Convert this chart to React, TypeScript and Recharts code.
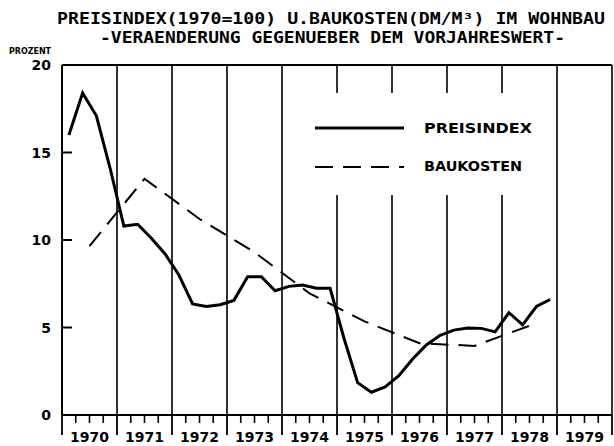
import { LineChart, Line, XAxis, YAxis, ReferenceLine, Legend } from "recharts";

// Preisindex, quarterly values 1970 Q1 .. 1978 Q4
const PREISINDEX = [
  16.0, 18.4, 17.1, 14.1,
  10.8, 10.9, 10.1, 9.2,
  8.0, 6.35, 6.2, 6.3,
  6.55, 7.9, 7.9, 7.1,
  7.35, 7.43, 7.24, 7.24,
  4.4, 1.85, 1.3, 1.6,
  2.25, 3.2, 4.0, 4.55,
  4.85, 4.97, 4.95, 4.75,
  5.85, 5.15, 6.2, 6.6,
];
// Baukosten, annual values 1970 .. 1978
const BAUKOSTEN_YEARS = [1970, 1971, 1972, 1973, 1974, 1975, 1976, 1977, 1978];
const BAUKOSTEN = [9.65, 13.5, 11.2, 9.3, 6.95, 5.35, 4.1, 3.95, 5.1];

const YEAR_LABELS = ["1970", "1971", "1972", "1973", "1974", "1975", "1976", "1977", "1978", "1979"];
const Y_TICKS = [0, 5, 10, 15, 20];
const YEAR_LINES = [1971, 1972, 1973, 1974, 1975, 1976, 1977, 1978, 1979, 1980];
const X_TICKS = Array.from({ length: 41 }, (_, i) => 1970 + i / 4);

const preisData = PREISINDEX.map((v, i) => ({ t: 1970 + (i + 0.5) / 4, v }));
const bauData = BAUKOSTEN.map((v, i) => ({ t: BAUKOSTEN_YEARS[i] + 0.5, v }));

const W = 614;
const H = 446;
const PLOT_LEFT = 62;
const PLOT_RIGHT = 612;
const PLOT_BOTTOM = 415;
const YEAR_PX = (PLOT_RIGHT - PLOT_LEFT) / 10;
const FONT = "'DejaVu Sans', sans-serif";
const MONO = "'DejaVu Sans Mono', monospace";

function XTick(props: any) {
  const { x, payload } = props;
  const v = payload.value;
  const isYear = Math.abs(v - Math.round(v)) < 1e-6;
  const idx = Math.round(v) - 1970;
  return (
    <g>
      <line x1={x} x2={x} y1={PLOT_BOTTOM} y2={PLOT_BOTTOM + (isYear ? 20 : 8)} stroke="#000" strokeWidth={isYear ? 1.8 : 1.6} />
      {isYear && idx < 10 && (
        <text
          x={x + YEAR_PX / 2}
          y={442}
          textAnchor="middle"
          fontFamily={FONT}
          fontWeight="bold"
          fontSize={14}
          textLength={39}
          lengthAdjust="spacingAndGlyphs"
          fill="#000"
        >
          {YEAR_LABELS[idx]}
        </text>
      )}
    </g>
  );
}

function YTick(props: any) {
  const { y, payload } = props;
  return (
    <g>
      <line x1={PLOT_LEFT} x2={PLOT_LEFT + 10} y1={y} y2={y} stroke="#000" strokeWidth={2} />
      <text x={51} y={y} dy={5} textAnchor="end" fontFamily={FONT} fontWeight="bold" fontSize={14} fill="#000">
        {payload.value}
      </text>
    </g>
  );
}

function LegendBox() {
  return (
    <div style={{ width: 240, height: 102, background: "#fff" }}>
      <svg width={240} height={102}>
        <line x1={15} x2={104} y1={35} y2={35} stroke="#000" strokeWidth={3} />
        <line x1={15} x2={104} y1={74} y2={74} stroke="#000" strokeWidth={2} strokeDasharray="18 10" />
        <text x={124} y={40} fontFamily={FONT} fontWeight="bold" fontSize={14} textLength={108} lengthAdjust="spacingAndGlyphs">
          PREISINDEX
        </text>
        <text x={124} y={78} fontFamily={FONT} fontWeight="bold" fontSize={14} textLength={98} lengthAdjust="spacingAndGlyphs">
          BAUKOSTEN
        </text>
      </svg>
    </div>
  );
}

export default function App() {
  return (
    <div style={{ position: "absolute", left: 0, top: 0, width: W, height: H, background: "#fff" }}>
      <LineChart width={W} height={H} margin={{ top: 65, right: W - PLOT_RIGHT, left: 0, bottom: 0 }}>
        <XAxis
          type="number"
          dataKey="t"
          domain={[1970, 1980]}
          ticks={X_TICKS}
          interval={0}
          height={H - PLOT_BOTTOM}
          axisLine={{ stroke: "#000", strokeWidth: 2 }}
          tickLine={false}
          tick={(p: any) => <XTick {...p} />}
          allowDataOverflow
        />
        <YAxis
          type="number"
          domain={[0, 20]}
          ticks={Y_TICKS}
          interval={0}
          width={PLOT_LEFT}
          axisLine={{ stroke: "#000", strokeWidth: 2 }}
          tickLine={false}
          tick={(p: any) => <YTick {...p} />}
        />
        {YEAR_LINES.map((yr) => (
          <ReferenceLine key={yr} x={yr} stroke="#000" strokeWidth={1.6} />
        ))}
        <ReferenceLine y={20} stroke="#000" strokeWidth={2} />
        <Legend
          layout="vertical"
          align="center"
          verticalAlign="middle"
          content={() => <LegendBox />}
          wrapperStyle={{ position: "absolute", left: 300, top: 93, width: 240, height: 102 }}
        />
        <Line
          data={preisData}
          dataKey="v"
          type="linear"
          stroke="#000"
          strokeWidth={3}
          dot={false}
          isAnimationActive={false}
        />
        <Line
          data={bauData}
          dataKey="v"
          type="linear"
          stroke="#000"
          strokeWidth={2}
          strokeDasharray="18 10"
          dot={false}
          isAnimationActive={false}
        />
      </LineChart>
      <svg width={W} height={60} style={{ position: "absolute", left: 0, top: 0, pointerEvents: "none" }}>
        <text x={57} y={24} fontFamily={MONO} fontWeight="bold" fontSize={16} textLength={548} lengthAdjust="spacingAndGlyphs">
          PREISINDEX(1970=100) U.BAUKOSTEN(DM/M³) IM WOHNBAU
        </text>
        <text x={100} y={43} fontFamily={MONO} fontWeight="bold" fontSize={16} textLength={465} lengthAdjust="spacingAndGlyphs">
          -VERAENDERUNG GEGENUEBER DEM VORJAHRESWERT-
        </text>
        <text x={9} y={54} fontFamily={FONT} fontWeight="bold" fontSize={9} textLength={42} lengthAdjust="spacingAndGlyphs">
          PROZENT
        </text>
      </svg>
    </div>
  );
}
